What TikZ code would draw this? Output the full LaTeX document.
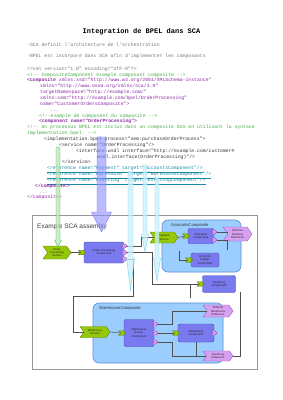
\documentclass[tikz,border=0pt]{standalone}
\usepackage{fontspec}
\setmainfont{Liberation Serif}
\setsansfont{Liberation Sans}
\setmonofont{Liberation Mono}
\usepackage{xcolor}
\usepackage{tikz}
\usetikzlibrary{shapes.symbols,positioning}

\definecolor{codegray}{RGB}{120,120,120}
\definecolor{codegreen}{RGB}{70,170,70}
\definecolor{codepurple}{RGB}{140,40,165}
\definecolor{codedark}{RGB}{55,55,55}
\definecolor{codeteal}{RGB}{25,140,165}
\definecolor{compfill}{RGB}{122,122,240}
\definecolor{compedge}{RGB}{70,70,175}
\definecolor{cpsfill}{RGB}{155,205,255}
\definecolor{cpsedge}{RGB}{90,140,210}
\definecolor{svcfill}{RGB}{150,200,10}
\definecolor{svcedge}{RGB}{95,135,0}
\definecolor{reffill}{RGB}{215,160,240}
\definecolor{refedge}{RGB}{150,90,190}
\definecolor{wiregray}{RGB}{80,80,80}
\definecolor{boxgray}{RGB}{150,150,150}

\begin{document}
\begin{tikzpicture}[x=1pt, y=-1pt,
    codeline/.style={anchor=mid west, inner sep=0pt, font=\ttfamily\fontsize{4.8}{5.5}\selectfont},
    comp/.style={draw=compedge, fill=compfill, rounded corners=2pt, align=center, inner sep=0pt, text=black!85, font=\sffamily\fontsize{2.9}{3.3}\selectfont},
    cpsbox/.style={draw=cpsedge, fill=cpsfill, rounded corners=6pt, line width=0.6pt, inner sep=0pt},
    svc/.style={shape=signal, signal from=west, signal to=east, signal pointer angle=110, draw=svcedge, fill=svcfill, align=center, inner sep=0pt, text=black!85, font=\sffamily\fontsize{2.8}{3.3}\selectfont},
    refr/.style={svc, draw=refedge, fill=reffill},
    gport/.style={shape=signal, signal from=west, signal to=east, draw=svcedge, fill=svcfill, minimum width=7pt, minimum height=4.5pt, inner sep=0pt},
    vport/.style={gport, draw=refedge, fill=reffill, minimum width=6pt, minimum height=4pt},
    wire/.style={draw=wiregray, line width=0.5pt},
    hintgreen/.style={fill=green!45!gray!40, draw=green!50!gray, fill opacity=0.7, line width=0.3pt},
    hintblue/.style={fill=blue!45!white, draw=blue!55!white, fill opacity=0.6, line width=0.4pt},
    hintcyan/.style={fill=cyan!20, draw=cyan!55, fill opacity=0.75, line width=0.4pt}
]
\fill[white] (0,0) rectangle (283,400);
\useasboundingbox (0,0) rectangle (283,400);

\node[font=\ttfamily\bfseries\fontsize{7}{8}\selectfont] (title) at (141.5,32) {Integration de BPEL dans SCA};
\node[codeline, text=codegray] (sca) at (27,44) {-SCA definit l'architecture de l'orchestration};
\node[codeline, text=codegray] (bpel) at (27,55.5) {-BPEL est incorporé dans SCA afin d'implementer les composants};

\node[codeline, text=codegray] (l0) at (27,68) {<?xml version="1.0" encoding="UTF-8"?>};
\node[codeline, text=codegreen] (l1) at (27,73.85) {<!-- CompositeComponent example  composant composite -->};
\node[codeline, text=codepurple] (l2) at (27,79.7) {\textbf{<composite}  xmlns:xsd="http://www.w3.org/2001/XMLSchema-instance"};
\node[codeline, text=codepurple] (l3) at (40,85.55) {xmlns="http://www.osoa.org/xmlns/sca/1.0"};
\node[codeline, text=codepurple] (l4) at (40,91.4) {targetNamespace="http://example.com/"};
\node[codeline, text=codepurple] (l5) at (40,97.25) {xmlns:sem="http://example.com/bpel/OrderProcessing"};
\node[codeline, text=codepurple] (l6) at (40,103.1) {name="CustomerOrdersComposite">};
\node[codeline, text=codepurple] (l7) at (50,108.95) {...};
\node[codeline, text=codegreen] (l8) at (39,114.8) {<!--example de composant du composite -->};
\node[codeline, text=codepurple] (l9) at (39,120.65) {\textbf{<component name="OrderProcessing">}};
\node[codeline, text=codegreen] (l10) at (27,126.5) {<!-- Un processus BPEL est inclus dans un composite SCA en utilisant la syntaxe};
\node[codeline, text=codegreen] (l11) at (27,132.35) {implementation.bpel. -->};
\node[codeline, text=codedark] (l12) at (44,138.2) {<implementation.bpel process="sem:purchaseOrderProcess">};
\node[codeline, text=codedark] (l13) at (59,144.05) {<service name="OrderProcessing"/>};
\node[codeline, text=codedark] (l14) at (76,149.9) {<interface.wsdl interface="http://example.com/customer\#};
\node[codeline, text=codedark] (l15) at (97,155.75) {wsdl.interface(OrderProcessing)"/>};
\node[codeline, text=codedark] (l16) at (62,161.6) {</service>};
\node[codeline, text=codeteal] (l17) at (47,167.45) {\underline{<reference name="Payment" target="AccountsComponent"/>}};
\node[codeline, text=codeteal] (l18) at (47,173.3) {\underline{<reference name="Warehouse" target="WarehouseComponent"/>}};
\node[codeline, text=codeteal] (l19) at (47,179.15) {\underline{<reference name="EventLog" target="EventLogComponent"/>}};
\node[codeline, text=codepurple] (l20) at (35,185) {\textbf{</component>}};
\node[codeline, text=codegray] (l21) at (39,190.85) {...};
\node[codeline, text=codepurple] (l22) at (27,196.7) {</composite>};

\node[draw=boxgray, line width=1pt, fill=white, minimum width=225pt, minimum height=154pt, inner sep=0pt] (assembly) at (144.5,292) {};
\node[anchor=west, inner sep=0pt, text=black!75, font=\sffamily\fontsize{6.5}{7}\selectfont] (asmlabel) at (37,227) {Example SCA assembly};

\node[cpsbox, minimum width=79pt, minimum height=52pt] (accounts) at (201.5,246) {};
\node[anchor=west, inner sep=0pt, text=black!80, font=\sffamily\fontsize{4.2}{5}\selectfont] (acclabel) at (171,225) {AccountsComposite};
\node[cpsbox, minimum width=130pt, minimum height=60pt] (warehouse) at (158,333) {};
\node[anchor=west, inner sep=0pt, text=black!80, font=\sffamily\fontsize{4.2}{5}\selectfont] (whlabel) at (99,308) {WarehouseComposite};

\node[svc, minimum width=28pt, minimum height=13pt] (ops) at (57,252.5) {Order\\Processing\\Service};
\node[comp, minimum width=40pt, minimum height=21pt] (opc) at (104,252.5) {Order Processing\\Component};
\node[gport, left=-2pt of opc] (opcin) {};
\node[vport] (opcp1) at (124,246) {};
\node[vport] (opcp2) at (124,252.5) {};
\node[vport] (opcp3) at (124,259) {};

\node[svc, minimum width=28pt, minimum height=11pt] (psvc) at (164,237.5) {Payment\\Service};
\node[comp, minimum width=26pt, minimum height=15pt] (pc) at (201,236) {Payments\\Component};
\node[gport, left=-2pt of pc] (pcin) {};
\node[vport] (pcp1) at (214,232) {};
\node[vport] (pcp2) at (214,240) {};
\node[refr, minimum width=29pt, minimum height=14pt] (ebr) at (237.5,234) {External\\Banking\\Reference};
\node[comp, minimum width=28pt, minimum height=14pt] (alc) at (205,260) {Accounts\\Ledger\\Component};
\node[gport, left=-2pt of alc] (alcin) {};

\node[comp, minimum width=33pt, minimum height=17pt] (elc) at (219,284) {EventLog\\Component};
\node[gport, left=-2pt of elc] (elin) {};

\node[svc, minimum width=30pt, minimum height=11pt] (whsvc) at (95,332) {Warehouse\\Service};
\node[comp, minimum width=30pt, minimum height=27pt] (wbc) at (139,333) {Warehouse\\Broker\\Component};
\node[gport, left=-2pt of wbc] (wbcin) {};
\node[vport] (wbcp1) at (155,324) {};
\node[vport] (wbcp2) at (155,333) {};
\node[vport] (wbcp3) at (155,342) {};
\node[comp, minimum width=36pt, minimum height=18pt] (wc) at (196,333) {Warehouse\\Component};
\node[gport, left=-2pt of wc] (wcin) {};
\node[vport] (wcp1) at (214,333) {};
\node[refr, minimum width=30pt, minimum height=12pt] (ewr) at (218,311) {External\\Warehouse\\Reference};
\node[refr, minimum width=30pt, minimum height=10pt] (elr) at (218,356) {EventLog\\Reference};

\coordinate (whknee) at (73,296);
\coordinate (acstub) at (227,250);
\coordinate (alcwire) at (179,251);
\coordinate (elknee) at (190,284);
\coordinate (elstub) at (190,298);
\coordinate (elend) at (240,292);

\draw[wire] (ops.east) -- (opcin.west);
\draw[wire] (opcp1.east) -- ++(14,0) |- (psvc.west);
\draw[wire] (opcp2.east) -- ++(25,0) |- (elin.west);
\draw[wire] (opcp3.east) -- ++(6,0) |- (whknee) |- (whsvc.west);
\draw[wire] (psvc.east) -- (pcin.west);
\draw[wire] (pcp1.east) -- (ebr.west |- pcp1.east);
\draw[wire] (pcp2.east) -| (acstub);
\draw[wire] (alcwire) |- (alcin.west);
\draw[wire] (elknee) -- (elstub);
\draw[wire] (whsvc.east) -- (wbcin.west);
\draw[wire] (wbcp1.east) -- ++(14,0) |- (ewr.west);
\draw[wire] (wbcp2.east) -- (wcin.west);
\draw[wire] (wbcp3.east) -- ++(14,0) |- (elr.west);
\draw[wire] (wc.south) |- (elr.west);
\draw[wire] (elr.east) -| (elend);

\filldraw[hintgreen] (56,147) -- (60,147) -- (60,240) -- (61.5,240) -- (58,247) -- (54.5,240) -- (56,240) -- cycle;
\filldraw[hintblue] (97,137) -- (106,137) -- (106,212) -- (111.5,212) -- (101.5,232) -- (91.5,212) -- (97,212) -- cycle;
\filldraw[hintcyan] (143,165) -- (147,165) -- (147,234) -- (148.5,234) -- (145,252) -- (141.5,234) -- (143,234) -- cycle;
\filldraw[hintcyan] (128,171) -- (133,171) -- (133,258) -- (134.5,258) -- (130.5,290) -- (126.5,258) -- (128,258) -- cycle;
\filldraw[hintcyan] (155,177) -- (159,177) -- (159,258) -- (160.5,258) -- (157,281) -- (153.5,258) -- (155,258) -- cycle;

\end{tikzpicture}
\end{document}
